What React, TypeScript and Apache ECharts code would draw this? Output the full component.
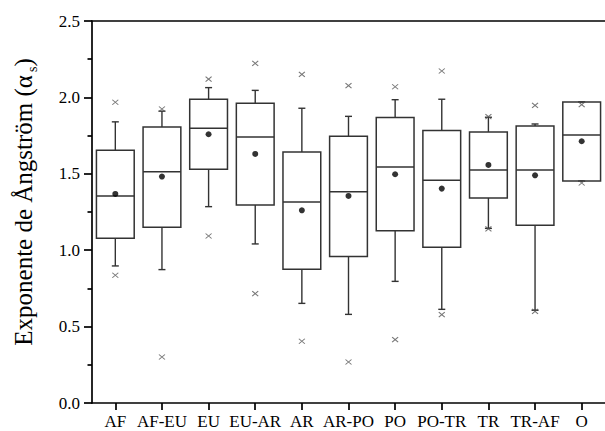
import React, { useEffect, useRef } from "react";
import * as echarts from "echarts";

const categories = ["AF", "AF-EU", "EU", "EU-AR", "AR", "AR-PO", "PO", "PO-TR", "TR", "TR-AF", "O"];
const whiskerHigh = [1.84, 1.91, 2.064, 2.046, 1.929, 1.876, 1.985, 1.988, 1.87, 1.826, 1.97];
const q3 = [1.654, 1.806, 1.988, 1.961, 1.643, 1.745, 1.868, 1.783, 1.774, 1.813, 1.97];
const median = [1.355, 1.514, 1.798, 1.741, 1.316, 1.383, 1.545, 1.457, 1.525, 1.525, 1.754];
const q1 = [1.078, 1.15, 1.529, 1.296, 0.875, 0.958, 1.128, 1.019, 1.342, 1.163, 1.453];
const whiskerLow = [0.897, 0.873, 1.285, 1.041, 0.652, 0.58, 0.796, 0.613, 1.143, 0.607, 1.453];
const mean = [1.368, 1.482, 1.759, 1.63, 1.261, 1.355, 1.497, 1.403, 1.558, 1.49, 1.713];
const extremeHigh = [1.968, 1.924, 2.12, 2.223, 2.151, 2.077, 2.07, 2.173, 1.874, 1.948, 1.953];
const extremeLow = [0.836, 0.301, 1.093, 0.716, 0.404, 0.268, 0.415, 0.578, 1.14, 0.6, 1.44];
const yTicks = { min: 0, max: 2.5, interval: 0.5 };

const FONT = "'Liberation Serif', 'DejaVu Serif', serif";

export default function App() {
  const ref = useRef<HTMLDivElement>(null);
  useEffect(() => {
    if (!ref.current) return;
    const chart = echarts.init(ref.current, null, { renderer: "svg" });
    const boxData = categories.map((_, i) => [i, whiskerLow[i], q1[i], median[i], q3[i], whiskerHigh[i]]);
    const meanData = mean.map((v, i) => [i, v]);
    const extData = [
      ...extremeHigh.map((v, i) => [i, v]),
      ...extremeLow.map((v, i) => [i, v]),
    ];
    const stroke = "#333";
    const axisLineStyle = { color: "#000", width: 1.7 };
    chart.setOption({
      animation: false,
      grid: { left: 92, top: 21, right: -1.4, bottom: 28, containLabel: false },
      xAxis: [
        {
          type: "category",
          data: categories,
          position: "bottom",
          boundaryGap: true,
          axisLine: { show: true, lineStyle: axisLineStyle },
          axisTick: { show: true, alignWithLabel: true, length: 7, lineStyle: axisLineStyle },
          axisLabel: { interval: 0, fontFamily: FONT, fontSize: 17, color: "#000", margin: 10 },
          splitLine: { show: false },
        },
        {
          type: "category",
          data: categories,
          position: "top",
          axisLine: { show: true, lineStyle: axisLineStyle },
          axisTick: { show: false },
          axisLabel: { show: false },
          splitLine: { show: false },
        },
      ],
      yAxis: {
        type: "value",
        min: yTicks.min,
        max: yTicks.max,
        interval: yTicks.interval,
        axisLine: { show: true, lineStyle: axisLineStyle },
        axisTick: { show: true, length: 8, lineStyle: axisLineStyle },
        minorTick: { show: true, splitNumber: 2, length: 4.5, lineStyle: axisLineStyle },
        axisLabel: {
          formatter: (v: number) => v.toFixed(1),
          fontFamily: FONT,
          fontSize: 17,
          color: "#000",
          margin: 12,
        },
        splitLine: { show: false },
        name: "{n|Exponente de Ångström (α}{s|s}{n|)}",
        nameLocation: "middle",
        nameGap: 53,
        nameRotate: 90,
        nameTextStyle: {
          fontFamily: FONT,
          fontSize: 25,
          color: "#000",
          padding: [0, 0, 0, 20],
          rich: {
            n: { fontFamily: FONT, fontSize: 25, color: "#000", lineHeight: 32, verticalAlign: "middle" },
            s: { fontFamily: FONT, fontSize: 14, color: "#000", lineHeight: 12, verticalAlign: "bottom", padding: [0, 0, 0, 3] },
          },
        },
      },
      series: [
        {
          type: "custom",
          z: 2,
          data: boxData,
          encode: { x: 0, y: [1, 2, 3, 4, 5] },
          renderItem: (params: any, api: any) => {
            const idx = api.value(0);
            const lo = api.coord([idx, api.value(1)]);
            const b1 = api.coord([idx, api.value(2)]);
            const md = api.coord([idx, api.value(3)]);
            const b3 = api.coord([idx, api.value(4)]);
            const hi = api.coord([idx, api.value(5)]);
            const band = api.size([1, 0])[0];
            const bw = band * 0.81;
            const x = lo[0];
            const cap = 3.5;
            const ls = { stroke, lineWidth: 1.4, fill: "none" };
            return {
              type: "group",
              children: [
                { type: "line", shape: { x1: x, y1: hi[1], x2: x, y2: b3[1] }, style: ls },
                { type: "line", shape: { x1: x, y1: b1[1], x2: x, y2: lo[1] }, style: ls },
                { type: "line", shape: { x1: x - cap, y1: hi[1], x2: x + cap, y2: hi[1] }, style: ls },
                { type: "line", shape: { x1: x - cap, y1: lo[1], x2: x + cap, y2: lo[1] }, style: ls },
                {
                  type: "rect",
                  shape: { x: x - bw / 2, y: b3[1], width: bw, height: b1[1] - b3[1] },
                  style: { stroke, lineWidth: 1.5, fill: "none" },
                },
                { type: "line", shape: { x1: x - bw / 2, y1: md[1], x2: x + bw / 2, y2: md[1] }, style: { stroke, lineWidth: 1.5 } },
              ],
            };
          },
        },
        {
          type: "scatter",
          z: 3,
          data: meanData,
          symbol: "circle",
          symbolSize: 6,
          itemStyle: { color: "#000" },
        },
        {
          type: "scatter",
          z: 4,
          data: extData,
          symbol: "path://M0,0L10,10M10,0L0,10",
          symbolSize: [6, 5],
          itemStyle: { color: "none", borderColor: "#555", borderWidth: 1 },
        },
      ],
    });
    return () => chart.dispose();
  }, []);
  return (
    <div
      ref={ref}
      style={{ position: "fixed", left: 0, top: 0, width: 605, height: 431, background: "#fff" }}
    />
  );
}
